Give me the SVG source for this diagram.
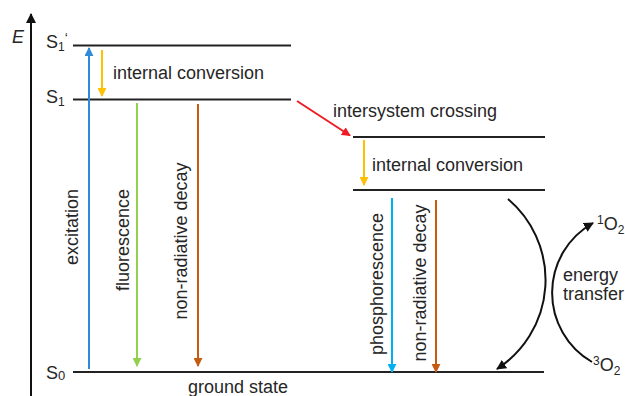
<svg xmlns="http://www.w3.org/2000/svg" width="625" height="396" viewBox="0 0 625 396">
<defs>
<style>
text{font-family:"Liberation Sans",Arial,sans-serif;font-size:18px;fill:#262626}
.lvl{stroke:#222;stroke-width:2;fill:none}
.arr{stroke-width:2;fill:none}
</style>
<marker id="hK" viewBox="0 0 10 10" refX="9" refY="5" markerWidth="5" markerHeight="5" orient="auto" markerUnits="strokeWidth"><path d="M0,0L10,5L0,10z" fill="#111"/></marker>
<marker id="hB" viewBox="0 0 10 10" refX="9" refY="5" markerWidth="4.5" markerHeight="4.5" orient="auto" markerUnits="strokeWidth"><path d="M0,0L10,5L0,10z" fill="#2F8BD8"/></marker>
<marker id="hY" viewBox="0 0 10 10" refX="9" refY="5" markerWidth="4.5" markerHeight="4.5" orient="auto" markerUnits="strokeWidth"><path d="M0,0L10,5L0,10z" fill="#FFC000"/></marker>
<marker id="hG" viewBox="0 0 10 10" refX="9" refY="5" markerWidth="4.5" markerHeight="4.5" orient="auto" markerUnits="strokeWidth"><path d="M0,0L10,5L0,10z" fill="#92D050"/></marker>
<marker id="hO" viewBox="0 0 10 10" refX="9" refY="5" markerWidth="4.5" markerHeight="4.5" orient="auto" markerUnits="strokeWidth"><path d="M0,0L10,5L0,10z" fill="#C55A11"/></marker>
<marker id="hC" viewBox="0 0 10 10" refX="9" refY="5" markerWidth="4.5" markerHeight="4.5" orient="auto" markerUnits="strokeWidth"><path d="M0,0L10,5L0,10z" fill="#00B0F0"/></marker>
<marker id="hR" viewBox="0 0 10 10" refX="9" refY="5" markerWidth="4.5" markerHeight="4.5" orient="auto" markerUnits="strokeWidth"><path d="M0,0L10,5L0,10z" fill="#EE1C25"/></marker>
</defs>
<rect width="625" height="396" fill="#fff"/>

<g id="axis">
<line x1="31" y1="396" x2="31" y2="14" class="arr" stroke="#111" marker-end="url(#hK)"/>
<text x="12" y="43" font-style="italic">E</text>
</g>

<g id="S1prime">
<line x1="73" y1="45.5" x2="291" y2="45.5" class="lvl"/>
<text x="46" y="48">S<tspan font-size="12" dy="3">1</tspan><tspan dy="-8" font-size="14">‘</tspan></text>
</g>
<g id="S1">
<line x1="73" y1="99.5" x2="291" y2="99.5" class="lvl"/>
<text x="46" y="103">S<tspan font-size="12" dy="3">1</tspan></text>
</g>
<g id="S0">
<line x1="73" y1="372" x2="544" y2="372" class="lvl"/>
<text x="46" y="379">S<tspan font-size="13" dy="1">0</tspan></text>
<text x="188" y="393">ground state</text>
</g>
<g id="T1">
<line x1="353" y1="137" x2="545" y2="137" class="lvl"/>
</g>
<g id="T1low">
<line x1="353" y1="190" x2="545" y2="190" class="lvl"/>
</g>

<g id="connectors">
<line x1="89" y1="369" x2="89" y2="48" class="arr" stroke="#2F8BD8" marker-end="url(#hB)"/>
<line x1="102" y1="50" x2="102" y2="96" class="arr" stroke="#FFC000" marker-end="url(#hY)"/>
<line x1="137" y1="103" x2="137" y2="366" class="arr" stroke="#92D050" marker-end="url(#hG)"/>
<line x1="198" y1="104" x2="198" y2="366" class="arr" stroke="#C55A11" marker-end="url(#hO)"/>
<line x1="297" y1="101" x2="350" y2="135.5" class="arr" stroke="#EE1C25" marker-end="url(#hR)"/>
<line x1="364" y1="140" x2="364" y2="185" class="arr" stroke="#FFC000" marker-end="url(#hY)"/>
<line x1="392" y1="198" x2="392" y2="372" class="arr" stroke="#00B0F0" marker-end="url(#hC)"/>
<line x1="436" y1="200" x2="436" y2="372" class="arr" stroke="#C55A11" marker-end="url(#hO)"/>
<path d="M508,199 A106,106 0 0 1 497,369" class="arr" stroke="#111" marker-end="url(#hK)"/>
<path d="M592,362 A80,80 0 0 1 593,223" class="arr" stroke="#111" marker-end="url(#hK)"/>
</g>

<g id="labels">
<text x="113" y="79">internal conversion</text>
<text x="333" y="117">intersystem crossing</text>
<text x="372" y="171">internal conversion</text>
<text transform="translate(78,227) rotate(-90)" text-anchor="middle">excitation</text>
<text transform="translate(129,240) rotate(-90)" text-anchor="middle">fluorescence</text>
<text transform="translate(187,241) rotate(-90)" text-anchor="middle">non-radiative decay</text>
<text transform="translate(383,284) rotate(-90)" text-anchor="middle">phosphorescence</text>
<text transform="translate(426,283) rotate(-90)" text-anchor="middle">non-radiative decay</text>
<text x="563" y="281">energy</text>
<text x="563" y="300">transfer</text>
<text x="597" y="230"><tspan font-size="12" dy="-6">1</tspan><tspan dy="6">O</tspan><tspan font-size="12" dy="4">2</tspan></text>
<text x="593" y="371"><tspan font-size="12" dy="-6">3</tspan><tspan dy="6">O</tspan><tspan font-size="12" dy="4">2</tspan></text>
</g>
</svg>
